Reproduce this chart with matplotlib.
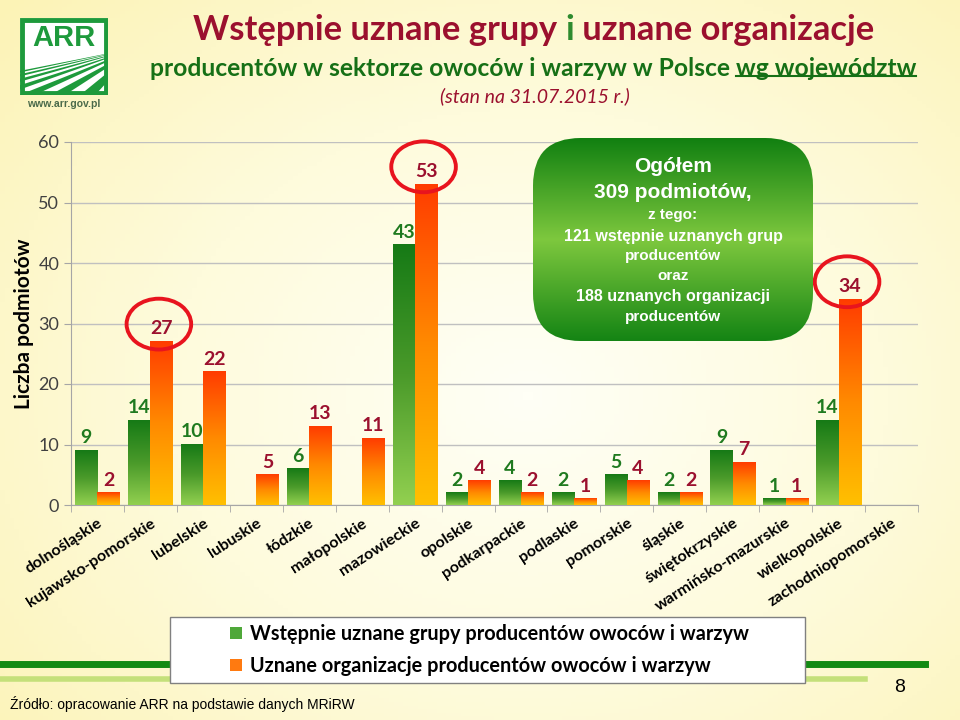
import numpy as np
import matplotlib
matplotlib.use("Agg")
import matplotlib.pyplot as plt
from matplotlib.colors import LinearSegmentedColormap
from matplotlib.patches import Ellipse, FancyBboxPatch, Rectangle, Patch, Polygon
from matplotlib.lines import Line2D

# data
regions = ["dolnośląskie", "kujawsko-pomorskie", "lubelskie", "lubuskie", "łódzkie",
           "małopolskie", "mazowieckie", "opolskie", "podkarpackie", "podlaskie",
           "pomorskie", "śląskie", "świętokrzyskie", "warmińsko-mazurskie",
           "wielkopolskie", "zachodniopomorskie"]
groups_prelim = [9, 14, 10, 0, 6, 0, 43, 2, 4, 2, 5, 2, 9, 1, 14, 0]
orgs_recognised = [2, 27, 22, 5, 13, 11, 53, 4, 2, 1, 4, 2, 7, 1, 34, 0]
circled = ["kujawsko-pomorskie", "mazowieckie", "wielkopolskie"]
legend_labels = ["Wstępnie uznane grupy producentów owoców i warzyw",
                 "Uznane organizacje producentów owoców i warzyw"]
box_lines = [("Ogółem", 15), ("309 podmiotów,", 15), ("z tego:", 11),
             ("121 wstępnie uznanych grup", 11.5), ("producentów", 11),
             ("oraz", 11), ("188 uznanych organizacji", 11.5), ("producentów", 11)]

DARK_RED = "#9b102e"
DARK_GREEN = "#1f7a1f"
LOGO_GREEN = "#1e9a3c"
green_cm = LinearSegmentedColormap.from_list("g", ["#92d050", "#4a9a2a", "#167a16"])
orange_cm = LinearSegmentedColormap.from_list("o", ["#ffc000", "#ff8a00", "#ff3c00"])

W, H = 960, 720
fig = plt.figure(figsize=(9.6, 7.2), dpi=100)


def fx(px):
    return px / W


def fy(py):
    return 1 - py / H


# background: pale yellow with a whiter middle
bg = fig.add_axes([0, 0, 1, 1], zorder=-10)
yy, xx = np.mgrid[0:1:200j, 0:1:200j]
r = np.sqrt(((xx - 0.55) / 0.75) ** 2 + ((yy - 0.45) / 0.8) ** 2)
bg_cm = LinearSegmentedColormap.from_list("bg", ["#fffff6", "#fefbdc", "#fcf3b6"])
bg.imshow(np.clip(r, 0, 1), cmap=bg_cm, extent=(0, 1, 0, 1), aspect="auto", origin="lower")
bg.axis("off")

# bottom stripes
fig.add_artist(Line2D([0, fx(925)], [fy(664), fy(664)], color="#138a13", lw=5))
fig.add_artist(Line2D([0, fx(865)], [fy(679), fy(679)], color="#c4e07a", lw=4))

# main chart
ax = fig.add_axes([fx(71), fy(505), fx(918 - 71), (505 - 142) / H])
ax.set_facecolor("none")
x = np.arange(len(regions))
bw = 0.42
bars_g = ax.bar(x - bw / 2, groups_prelim, bw, color="none", zorder=3)
bars_o = ax.bar(x + bw / 2, orgs_recognised, bw, color="none", zorder=3)

grad = np.linspace(0, 1, 256).reshape(-1, 1)
for bars, cm, col in [(bars_g, green_cm, DARK_GREEN), (bars_o, orange_cm, DARK_RED)]:
    for rect in bars:
        h = rect.get_height()
        if h <= 0:
            continue
        x0, w = rect.get_x(), rect.get_width()
        ax.imshow(grad, cmap=cm, extent=(x0, x0 + w, 0, h), aspect="auto",
                  origin="lower", zorder=3)
        ax.annotate(str(int(h)), (x0 + w / 2, h), xytext=(0, 3),
                    textcoords="offset points", ha="center", va="bottom",
                    fontsize=14, fontweight="bold", color=col, family="Lato")

for name in circled:
    i = regions.index(name)
    v = orgs_recognised[i]
    ax.add_patch(Ellipse((i + bw / 2 - 0.05, v + 2.9), 1.22, 8.4, fill=False,
                         ec="#e8141e", lw=2.8, zorder=5, clip_on=False))

ax.set_xlim(-0.5, len(regions) - 0.5)
ax.set_ylim(0, 60)
ax.set_yticks(range(0, 61, 10))
ax.yaxis.grid(True, color="#c0c0c0", lw=1)
ax.set_axisbelow(True)
for s in ["top", "right"]:
    ax.spines[s].set_visible(False)
for s in ["left", "bottom"]:
    ax.spines[s].set_color("#a6a6a6")
ax.tick_params(axis="y", colors="#a6a6a6", labelcolor="#404040", labelsize=13, length=5)
for t in ax.get_yticklabels():
    t.set_family("Lato")
ax.set_xticks(x)
ax.set_xticks(np.arange(-0.5, len(regions)), minor=True)
ax.tick_params(axis="x", which="major", length=0, pad=8)
ax.tick_params(axis="x", which="minor", length=5, color="#a6a6a6")
ax.set_xticklabels(regions, rotation=33, ha="right", rotation_mode="anchor",
                   fontsize=11.6, fontweight="bold", family="Lato")
ax.set_ylabel("Liczba podmiotów", fontsize=15, fontweight="bold", family="Lato",
              labelpad=3)

# summary box with green gradient
bax = fig.add_axes([fx(533), fy(341), fx(280), 203 / H], zorder=4)
bax.set_xlim(0, 1)
bax.set_ylim(0, 1)
bax.axis("off")
box_cm = LinearSegmentedColormap.from_list("b", ["#148414", "#7ec83e", "#118011"])
box = FancyBboxPatch((0, 0), 1, 1, boxstyle="round,pad=0,rounding_size=0.17",
                     mutation_aspect=280 / 203, transform=bax.transAxes,
                     fc="none", ec="none")
bax.add_patch(box)
img = bax.imshow(np.linspace(0, 1, 256).reshape(-1, 1), cmap=box_cm,
                 extent=(0, 1, 0, 1), aspect="auto", origin="lower")
img.set_clip_path(box)
line_y = [166, 193, 215, 237, 256, 276, 297, 317]
for (txt, fs), py in zip(box_lines, line_y):
    bax.text(0.5, (341 - py) / 203, txt, ha="center", va="center", color="white",
             fontsize=fs, fontweight="bold", family="Liberation Sans")

# titles
TS = 24.8
t1 = fig.text(fx(193), fy(30), "Wstępnie uznane grupy ", ha="left", va="center",
              fontsize=TS, fontweight="bold", color=DARK_RED, family="Lato")
t2 = fig.text(0, 0, "i", fontsize=TS, fontweight="bold", color="#2e8b2e", family="Lato")
t3 = fig.text(0, 0, " uznane organizacje", fontsize=TS, fontweight="bold",
              color=DARK_RED, family="Lato")
fig.canvas.draw()
rend = fig.canvas.get_renderer()
inv = fig.transFigure.inverted()
e1 = t1.get_window_extent(rend)
t2.set_position(inv.transform((e1.x1, e1.y0)))
t2.set_va("bottom")
fig.canvas.draw()
e2 = t2.get_window_extent(rend)
t3.set_position(inv.transform((e2.x1, e1.y0)))
t3.set_va("bottom")

SS = 17.7
s1 = fig.text(fx(150), fy(68), "producentów w sektorze owoców i warzyw w Polsce ",
              ha="left", va="center", fontsize=SS, fontweight="bold",
              color="#167016", family="Lato")
fig.canvas.draw()
es = s1.get_window_extent(rend)
s2 = fig.text(*inv.transform((es.x1, es.y0)), "wg województw", ha="left", va="bottom",
              fontsize=SS, fontweight="bold", color="#167016", family="Lato")
fig.canvas.draw()
es2 = s2.get_window_extent(rend)
uy = inv.transform((0, es2.y0 + 4))[1]
fig.add_artist(Line2D([inv.transform((es2.x0, 0))[0], inv.transform((es2.x1, 0))[0]],
                      [uy, uy], color="#167016", lw=1.5))
fig.text(fx(535), fy(96), "(stan na 31.07.2015 r.)", ha="center", va="center",
         fontsize=14, style="italic", color=DARK_RED, family="Lato")

# logo
lax = fig.add_axes([fx(20), fy(95), fx(88), 77 / H])
lax.set_xlim(0, 1)
lax.set_ylim(0, 1)
lax.axis("off")
lax.add_patch(Rectangle((0, 0), 1, 1, fc="white", ec="none"))
hx = np.linspace(0, 1, 40)
horizon = 0.36 + 0.2 * hx ** 1.4
field = Polygon(np.column_stack([np.r_[hx, 1, 0], np.r_[horizon, 0, 0]]),
                fc="none", ec="none", transform=lax.transData)
lax.add_patch(field)
vp = (1.35, 0.62)
pts = np.linspace(-1.6, 1.0, 15)
for k in range(0, len(pts) - 1, 2):
    wedge = Polygon([vp, (pts[k], -0.05), (pts[k + 1], -0.05)], fc=LOGO_GREEN, ec="none")
    lax.add_patch(wedge)
    wedge.set_clip_path(field)
lax.add_patch(Rectangle((0.02, 0.02), 0.96, 0.96, fc="none", ec=LOGO_GREEN, lw=3.5))
lax.text(0.5, 0.74, "ARR", ha="center", va="center", fontsize=21, fontweight="bold",
         color=LOGO_GREEN, family="Liberation Sans")
fig.text(fx(64), fy(104), "www.arr.gov.pl", ha="center", va="center", fontsize=7.5,
         fontweight="bold", color="#4a6a4a", family="Liberation Sans")

# legend
fig.add_artist(Rectangle((fx(170), fy(683)), fx(635), 66 / H, fc="white",
                         ec="#808080", lw=1, zorder=2))
handles = [Patch(fc="#4fa83a", ec="none"), Patch(fc="#ff7a10", ec="none")]
leg = fig.legend(handles, legend_labels, loc="center left",
                 bbox_to_anchor=(fx(212), fy(650)), frameon=False,
                 prop={"family": "Lato", "size": 14.3, "weight": "bold"},
                 handlelength=0.6, handleheight=0.6, handletextpad=0.4,
                 labelspacing=0.6)
leg.set_zorder(3)

fig.text(fx(10), fy(704), "Źródło: opracowanie ARR na podstawie danych MRiRW",
         ha="left", va="center", fontsize=10, family="Liberation Sans")
fig.text(fx(900), fy(688), "8", ha="center", va="center", fontsize=14,
         family="Liberation Sans")

fig.savefig("out.png", dpi=100)
